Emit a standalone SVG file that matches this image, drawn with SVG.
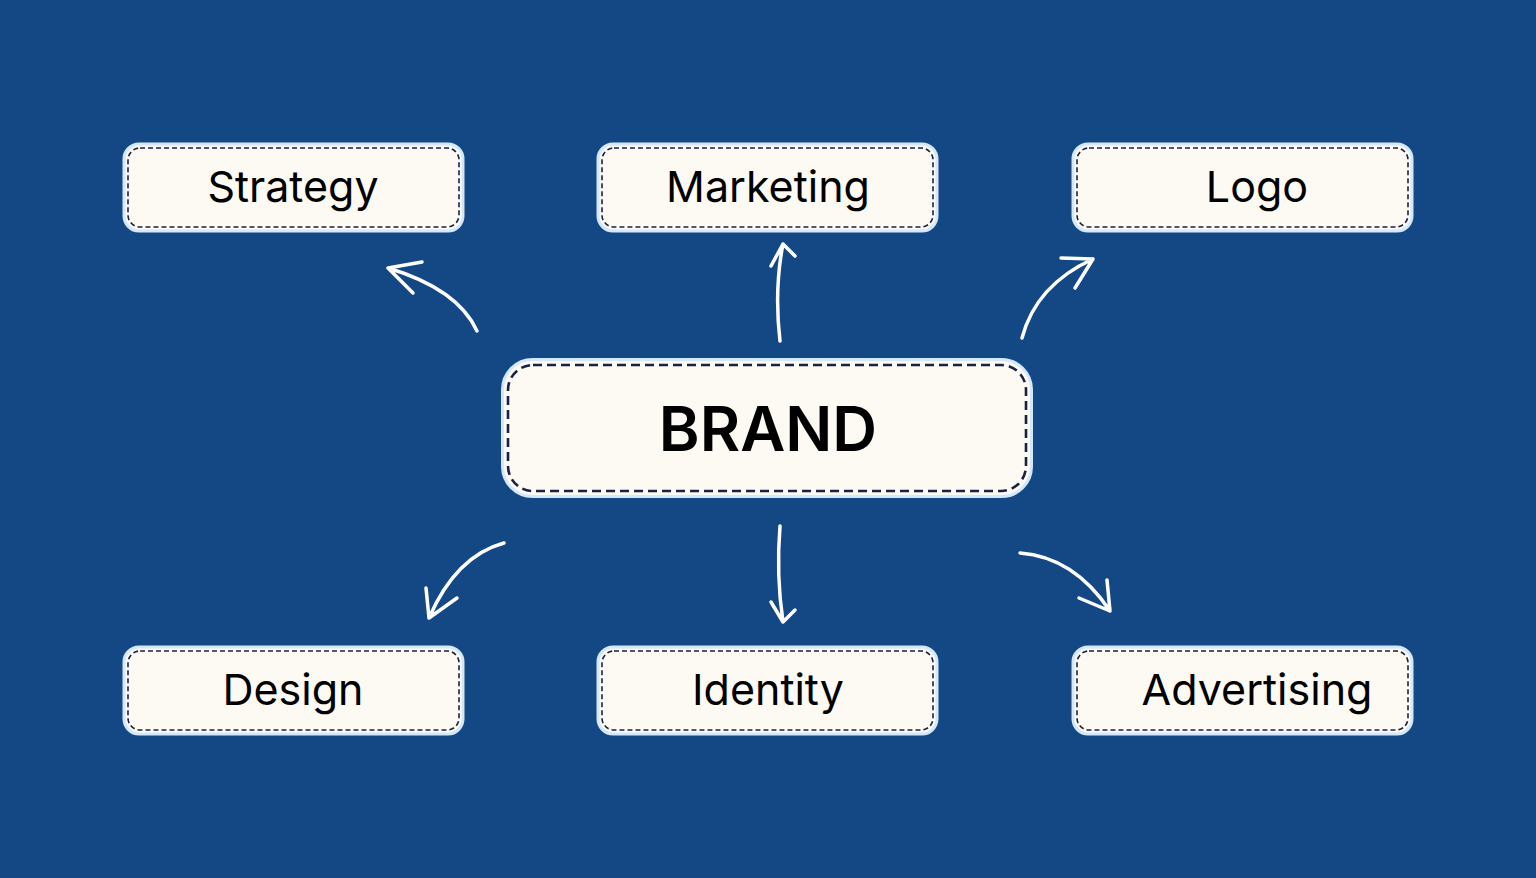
<svg xmlns="http://www.w3.org/2000/svg" width="1536" height="878" viewBox="0 0 1536 878">
<style>
.outer{fill:#fdf9f3;stroke:#d3e8fb;stroke-width:3}
.dash{fill:none;stroke:#1b2140;stroke-width:1.6;stroke-dasharray:5 3}
.dashb{fill:none;stroke:#1b2140;stroke-width:2.6;stroke-dasharray:9 5}
.lbl{font-family:Inter,"Liberation Sans",sans-serif;font-size:43px;fill:#000;text-anchor:middle}
.big{font-family:Inter,"Liberation Sans",sans-serif;font-size:62px;font-weight:600;fill:#000;text-anchor:middle}
.arr{fill:none;stroke:#fff;stroke-width:3.5;stroke-linecap:round;stroke-linejoin:round}
</style>
<rect width="1536" height="878" fill="#144884"/>
<g id="connectors">
<path class="arr" d="M477 331 Q458 289 388 268 M388 268 L422 262 M388 268 L413 293"/>
<path class="arr" d="M780 341 Q774 290 783 244 M783 244 L771 266 M783 244 L795 256"/>
<path class="arr" d="M1022 338 Q1036 285 1093 259 M1093 259 L1061 258 M1093 259 L1075 288"/>
<path class="arr" d="M504 543 Q456 556 429 618 M429 618 L426 588 M429 618 L457 598"/>
<path class="arr" d="M780 526 Q776 575 783 622 M783 622 L771 602 M783 622 L795 610"/>
<path class="arr" d="M1020 553 Q1074 557 1110 611 M1110 611 L1107 580 M1110 611 L1079 598"/>
</g>
<g id="brand">
<rect class="outer" x="502.5" y="359.5" width="529" height="137" rx="30" stroke-width="4"/>
<rect class="dashb" x="508" y="365" width="518" height="126" rx="25"/>
<text class="big" x="768" y="451">BRAND</text>
</g>
<g id="strategy">
<rect class="outer" x="124" y="144" width="339" height="87" rx="15"/>
<rect class="dash" x="128" y="148" width="331" height="79" rx="12"/>
<text class="lbl" x="293" y="202">Strategy</text>
</g>
<g id="marketing">
<rect class="outer" x="598" y="144" width="339" height="87" rx="15"/>
<rect class="dash" x="602" y="148" width="331" height="79" rx="12"/>
<text class="lbl" x="768" y="202">Marketing</text>
</g>
<g id="logo">
<rect class="outer" x="1073" y="144" width="339" height="87" rx="15"/>
<rect class="dash" x="1077" y="148" width="331" height="79" rx="12"/>
<text class="lbl" x="1257" y="202">Logo</text>
</g>
<g id="design">
<rect class="outer" x="124" y="647" width="339" height="87" rx="15"/>
<rect class="dash" x="128" y="651" width="331" height="79" rx="12"/>
<text class="lbl" x="293" y="705">Design</text>
</g>
<g id="identity">
<rect class="outer" x="598" y="647" width="339" height="87" rx="15"/>
<rect class="dash" x="602" y="651" width="331" height="79" rx="12"/>
<text class="lbl" x="768" y="705">Identity</text>
</g>
<g id="advertising">
<rect class="outer" x="1073" y="647" width="339" height="87" rx="15"/>
<rect class="dash" x="1077" y="651" width="331" height="79" rx="12"/>
<text class="lbl" x="1257" y="705">Advertising</text>
</g>
</svg>
